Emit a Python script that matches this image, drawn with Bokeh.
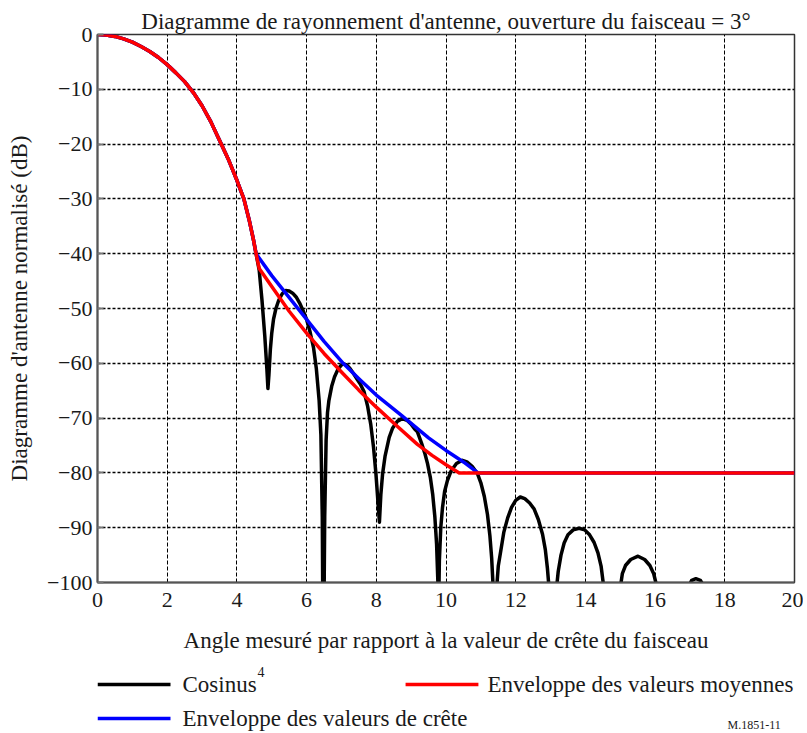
from bokeh.plotting import figure
from bokeh.models import Range1d, FixedTicker
from bokeh.layouts import column
from bokeh.embed import file_html
from bokeh.resources import INLINE
from bokeh.core.properties import value

FONT = "Liberation Serif"

TITLE = "Diagramme de rayonnement d'antenne, ouverture du faisceau = 3°"
X_LABEL = "Angle mesuré par rapport à la valeur de crête du faisceau"
Y_LABEL = "Diagramme d'antenne normalisé (dB)"
X_TICKS = [0, 2, 4, 6, 8, 10, 12, 14, 16, 18, 20]
Y_TICKS = [0, -10, -20, -30, -40, -50, -60, -70, -80, -90, -100]
Y_TICK_LABELS = ["0", "\u221210", "\u221220", "\u221230", "\u221240", "\u221250",
                 "\u221260", "\u221270", "\u221280", "\u221290", "\u2212100"]

SERIES_NAMES = ["Cosinus", "Enveloppe des valeurs moyennes", "Enveloppe des valeurs de crête"]
SUPERSCRIPT = "4"
FOOTNOTE = "M.1851-11"

# main lobe (common to the three curves)
MAIN_X = [0.0, 0.25, 0.5, 0.75, 1.0, 1.25, 1.5, 1.75, 2.0, 2.25, 2.5, 2.75, 3.0, 3.25, 3.5,
          3.75, 4.0, 4.2, 4.35, 4.47, 4.55]
MAIN_Y = [0.0, -0.08, -0.35, -0.8, -1.4, -2.2, -3.1, -4.2, -5.5, -7.0, -8.6, -10.6, -13.0,
          -15.9, -19.3, -22.7, -26.6, -30.0, -33.8, -37.3, -40.0]

# cosine^4 side lobes (below -100 is off-scale)
COS4_X = [4.64, 4.72, 4.80, 4.86, 4.89, 4.92, 4.96, 5.00, 5.05, 5.12, 5.20, 5.30, 5.40, 5.50,
          5.60, 5.70, 5.80, 5.90, 6.00, 6.10, 6.20, 6.28, 6.36, 6.41, 6.45, 6.48,
          6.52, 6.56, 6.60, 6.64, 6.72, 6.80, 6.90, 7.00, 7.05, 7.15, 7.25, 7.35, 7.45, 7.55,
          7.65, 7.75, 7.84, 7.92, 7.99, 8.05, 8.09,
          8.13, 8.18, 8.25, 8.37, 8.47, 8.60, 8.74, 8.88, 9.00, 9.10, 9.18, 9.30, 9.40, 9.47,
          9.55, 9.62, 9.68, 9.73, 9.77, 9.79,
          9.81, 9.85, 9.90, 9.96, 10.04, 10.15, 10.30, 10.47, 10.60, 10.75, 10.90, 11.00,
          11.10, 11.19, 11.26, 11.31, 11.35, 11.40,
          11.46, 11.50, 11.57, 11.66, 11.77, 11.88, 12.00, 12.13, 12.26, 12.40, 12.53, 12.65,
          12.77, 12.85, 12.91, 12.95, 13.05,
          13.18, 13.22, 13.30, 13.39, 13.50, 13.65, 13.82, 13.98, 14.12, 14.25, 14.36, 14.45,
          14.52, 14.70,
          15.00, 15.06, 15.15, 15.30, 15.51, 15.70, 15.85, 15.96, 16.04, 16.30,
          16.98, 17.05, 17.17, 17.30, 17.38, 17.60]
COS4_Y = [-43.0, -48.5, -55.0, -61.0, -64.6, -62.0, -57.5, -54.5, -52.0, -50.0, -48.5, -47.3, -46.7, -46.8,
          -47.2, -47.9, -49.0, -50.4, -52.0, -54.3, -57.2, -61.0, -66.8, -73.0, -88.0, -120.0,
          -88.0, -74.0, -69.0, -66.8, -64.2, -62.5, -61.1, -60.3, -60.1, -60.3, -61.0, -61.9, -62.9, -63.9,
          -65.2, -67.8, -71.1, -75.3, -80.2, -85.5, -89.0,
          -84.0, -80.2, -77.0, -73.5, -71.8, -70.6, -70.1, -70.4, -71.1, -72.0, -72.5, -74.6, -76.6, -78.3,
          -80.8, -84.0, -88.0, -93.0, -100.5, -104.0,
          -96.0, -90.0, -86.3, -83.4, -81.4, -79.6, -78.3, -77.7, -78.0, -78.8, -80.1, -81.8,
          -84.3, -87.6, -91.5, -95.5, -100.5, -115.0,
          -100.5, -97.0, -94.3, -90.8, -88.2, -86.3, -85.0, -84.4, -84.7, -85.5, -86.6, -88.5,
          -91.2, -94.0, -97.4, -100.5, -115.0,
          -100.5, -98.0, -95.0, -92.8, -91.3, -90.4, -90.1, -90.4, -91.3, -92.7, -94.6, -97.0,
          -100.5, -115.0,
          -101.0, -98.4, -96.9, -95.8, -95.2, -95.8, -96.9, -98.4, -100.5, -115.0,
          -100.5, -99.6, -99.3, -99.6, -100.5, -115.0]

# mean envelope tail
MEAN_X = [4.64, 5.0, 5.5, 6.0, 6.5, 7.0, 7.5, 8.0, 8.6, 9.18, 9.6, 10.0, 10.38, 20.0]
MEAN_Y = [-42.7, -46.0, -50.5, -54.5, -58.2, -61.6, -64.9, -68.0, -71.5, -74.8, -76.8, -78.5, -80.0, -80.0]

# peak envelope tail
PEAK_X = [5.0, 5.4, 6.0, 6.5, 7.05, 7.5, 8.0, 8.74, 9.5, 10.0, 10.5, 10.92, 20.0]
PEAK_Y = [-44.0, -47.2, -52.0, -56.0, -60.0, -62.8, -65.8, -69.6, -73.6, -75.9, -78.0, -80.0, -80.0]

BLACK = "#000000"
RED = "#ff0000"
BLUE = "#0000ff"
TEXT = "#1a1a1a"
LW = 3.5

p = figure(width=803, height=663, x_range=Range1d(0, 20), y_range=Range1d(-100, 0),
           output_backend="svg", toolbar_location=None,
           min_border_left=97, min_border_right=9, min_border_top=34, min_border_bottom=81)

p.title.text = TITLE
p.title.align = "center"
p.title.text_font = FONT
p.title.text_font_size = "23px"
p.title.text_font_style = "normal"
p.title.text_color = TEXT
p.title.standoff = 2
p.title.offset = 12

p.outline_line_color = "#333333"
p.outline_line_width = 1.5
p.outline_line_alpha = 1.0

p.xaxis.ticker = FixedTicker(ticks=X_TICKS)
p.yaxis.ticker = FixedTicker(ticks=Y_TICKS)
p.yaxis.major_label_overrides = {t: lab for t, lab in zip(Y_TICKS, Y_TICK_LABELS)}

for ax in (p.xaxis[0], p.yaxis[0]):
    ax.axis_line_color = "#555555"
    ax.axis_line_width = 2
    ax.minor_tick_line_color = None
    ax.major_label_text_font = FONT
    ax.major_label_text_font_size = "22px"
    ax.major_label_text_color = TEXT
    ax.axis_label_text_font = FONT
    ax.axis_label_text_font_size = "23px"
    ax.axis_label_text_font_style = "normal"
    ax.axis_label_text_color = TEXT

p.xaxis.axis_label = X_LABEL
p.yaxis.axis_label = Y_LABEL
p.xaxis.major_tick_in = 0
p.xaxis.major_tick_out = 0
p.yaxis.major_tick_in = 6
p.yaxis.major_tick_out = 0
p.yaxis.major_tick_line_color = "#777777"
p.yaxis.major_tick_line_width = 2
p.xaxis.major_label_standoff = 10
p.xaxis.axis_label_standoff = 18
p.yaxis.major_label_standoff = 5
p.yaxis.axis_label_standoff = 12

p.xgrid.ticker = FixedTicker(ticks=X_TICKS)
p.ygrid.ticker = FixedTicker(ticks=Y_TICKS)
p.xgrid.grid_line_color = "black"
p.xgrid.grid_line_dash = "4 2"
p.xgrid.grid_line_width = 1
p.ygrid.grid_line_color = "black"
p.ygrid.grid_line_dash = "3 2"
p.ygrid.grid_line_width = 1.6

p.line(MAIN_X + COS4_X, MAIN_Y + COS4_Y, line_color=BLACK, line_width=LW, line_join="round")
p.line(MAIN_X + PEAK_X, MAIN_Y + PEAK_Y, line_color=BLUE, line_width=LW, line_join="round")
p.line(MAIN_X + MEAN_X, MAIN_Y + MEAN_Y, line_color=RED, line_width=LW, line_join="round")

# legend strip: same horizontal scale as the plot (its frame is aligned with the plot frame),
# vertical coordinate = pixels from the strip's top
LEG_H = 68
lg = figure(width=803, height=LEG_H, x_range=Range1d(0, 20), y_range=Range1d(LEG_H, 0),
            output_backend="svg", toolbar_location=None, min_border=0,
            min_border_left=97, min_border_right=9, min_border_top=0, min_border_bottom=0,
            x_axis_type=None, y_axis_type=None, outline_line_color=None)
lg.grid.visible = False

lg.line([0.0, 2.095], [21, 21], line_color=BLACK, line_width=LW)
lg.line([8.84, 10.93], [21, 21], line_color=RED, line_width=LW)
lg.line([0.0, 2.095], [55, 55], line_color=BLUE, line_width=LW)
lg.text(x=[2.44, 11.19, 2.44], y=[21, 21, 55], text=SERIES_NAMES,
        text_font=value(FONT), text_font_size="23px", text_color=TEXT,
        text_baseline="middle", text_align="left")
lg.text(x=[4.59], y=[8], text=[SUPERSCRIPT], text_font=value(FONT), text_font_size="14px",
        text_color=TEXT, text_baseline="middle", text_align="left")
lg.text(x=[18.08], y=[61], text=[FOOTNOTE], text_font=value(FONT), text_font_size="12px",
        text_color=TEXT, text_baseline="middle", text_align="left")

layout = column(p, lg, spacing=0)
open("out.html", "w").write(file_html(layout, INLINE))
